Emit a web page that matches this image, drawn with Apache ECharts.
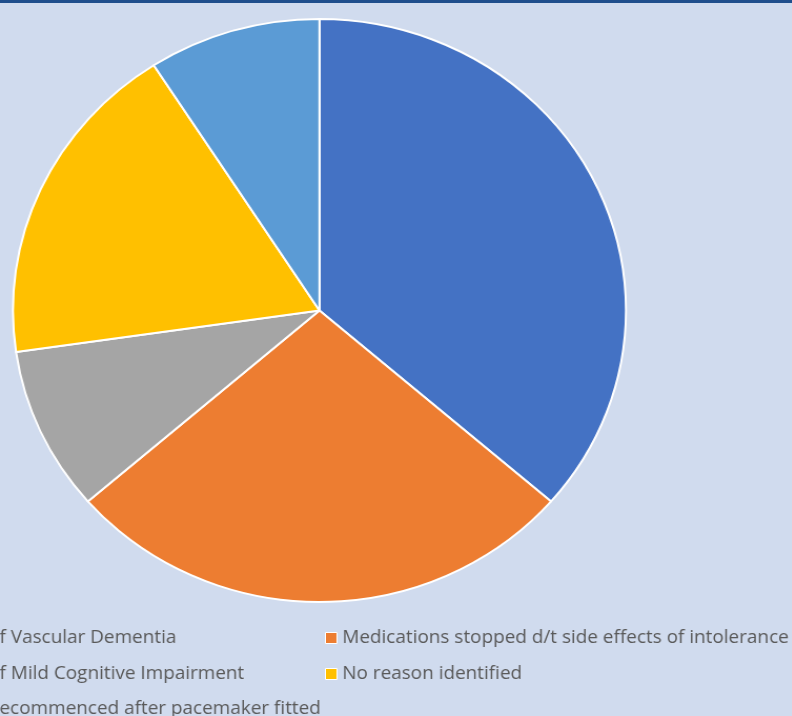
<!DOCTYPE html>
<html>
<head>
<meta charset="utf-8">
<script src="https://cdn.jsdelivr.net/npm/echarts@6/dist/echarts.min.js"></script>
<style>
html,body{margin:0;padding:0;background:#D0DBEE;overflow:hidden;width:792px;height:716px;}
#wrap{position:relative;width:792px;height:716px;overflow:hidden;}
#c{position:absolute;left:0;top:0;width:754px;height:760px;transform:scaleX(1.0515);transform-origin:0 0;}
#bar{position:absolute;left:0;top:0;width:792px;height:3px;background:#1F4E8C;z-index:5;}
</style>
</head>
<body>
<div id="wrap">
<div id="c"></div>
<div id="bar"></div>
</div>
<script>
var categories = [
  "f Vascular Dementia",
  "Medications stopped d/t side effects of intolerance",
  "f Mild Cognitive Impairment",
  "No reason identified",
  "ecommenced after pacemaker fitted"
];
var values = [4, 3, 1, 2, 1];
var colors = ["#4472C4", "#ED7D31", "#A5A5A5", "#FFC000", "#5B9BD5"];

var chart = echarts.init(document.getElementById('c'));
var data = categories.map(function(n, i){ return {name:n, value:values[i], itemStyle:{color:colors[i]}}; });
var legendText = {color:'#595959', fontSize:18, fontFamily:'Open Sans', lineHeight:20};
chart.setOption({
  backgroundColor:'#D0DBEE',
  animation:false,
  legend:[{
    orient:'vertical', left:304, top:623, height:120, itemWidth:11, itemHeight:11, itemGap:16,
    icon:'rect', itemStyle:{borderColor:'#ffffff', borderWidth:1},
    textStyle:legendText, data:[categories[1], categories[3]]
  },{
    orient:'vertical', left:-22, top:623, height:120, itemWidth:11, itemHeight:11, itemGap:15.5,
    icon:'rect', itemStyle:{borderColor:'#ffffff', borderWidth:1},
    textStyle:legendText, data:[categories[0], categories[2], categories[4]]
  }],
  series:[{
    type:'pie', center:[303.8,310.5], radius:291.5, startAngle:90, clockwise:true,
    label:{show:false}, labelLine:{show:false},
    itemStyle:{borderColor:'#ffffff', borderWidth:2},
    emphasis:{disabled:true},
    data:data
  }]
});
</script>
</body>
</html>
